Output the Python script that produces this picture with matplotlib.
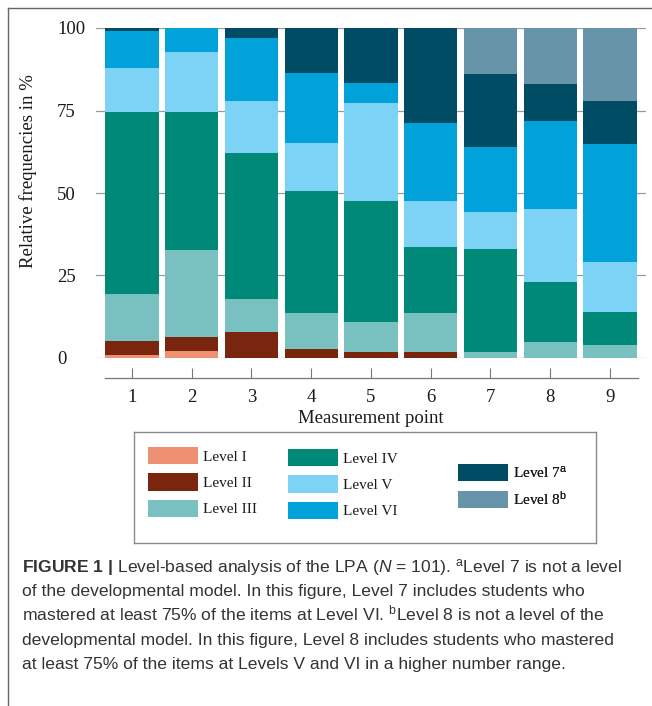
import matplotlib
matplotlib.use('Agg')
import matplotlib.pyplot as plt
from matplotlib.patches import Patch
from matplotlib.lines import Line2D
import numpy as np

points = [1, 2, 3, 4, 5, 6, 7, 8, 9]
level_I = [1.0, 2.2, 0, 0, 0, 0, 0, 0, 0]
level_II = [4.2, 4.1, 8.0, 2.8, 1.9, 1.9, 0, 0, 0]
level_III = [14.2, 26.3, 10.0, 10.9, 9.1, 11.8, 1.9, 4.8, 3.9]
level_IV = [55.2, 42.0, 44.0, 36.8, 36.5, 19.9, 31.2, 18.1, 10.0]
level_V = [13.2, 18.2, 16.0, 14.8, 29.7, 13.9, 11.0, 22.2, 15.1]
level_VI = [11.4, 7.2, 19.1, 21.0, 6.0, 23.8, 19.9, 26.8, 35.9]
level_7 = [0.8, 0, 2.9, 13.7, 16.8, 28.7, 22.0, 11.1, 13.1]
level_8 = [0, 0, 0, 0, 0, 0, 14.0, 17.0, 22.0]

labels = ['Level I', 'Level II', 'Level III', 'Level IV', 'Level V', 'Level VI',
          r'Level 7$^{\mathrm{a}}$', r'Level 8$^{\mathrm{b}}$']
colors = ['#EE9072', '#7A260E', '#79C1C1', '#008878', '#7DD3F6', '#00A2D9',
          '#004C64', '#6794A8']
yticks = [0, 25, 50, 75, 100]

plt.rcParams['font.family'] = ['Liberation Serif', 'DejaVu Serif']
plt.rcParams['mathtext.fontset'] = 'custom'
plt.rcParams['mathtext.rm'] = 'Liberation Sans'
plt.rcParams['mathtext.it'] = 'Liberation Sans:italic'
plt.rcParams['mathtext.bf'] = 'Liberation Sans:bold'

W, H = 652, 706
fig = plt.figure(figsize=(W / 100, H / 100), dpi=100)
ax = fig.add_axes([96 / W, 1 - 358 / H, 549.8 / W, 330 / H])

# stacked bars
series = [level_I, level_II, level_III, level_IV, level_V, level_VI, level_7, level_8]
bottom = np.zeros(len(points))
for vals, col in zip(series, colors):
    ax.bar(points, vals, width=0.893, bottom=bottom, color=col, linewidth=0, zorder=2)
    bottom += np.array(vals)

ax.set_xlim(0.398, 9.6)
ax.set_ylim(0, 100)
ax.set_yticks(yticks)
ax.set_yticklabels([str(t) for t in yticks])
ax.yaxis.grid(True, color='#9a9a9a', lw=0.9, zorder=0)
ax.set_axisbelow(True)
ax.tick_params(axis='y', length=0, pad=28, labelsize=13.5, colors='#1a1a1a')
for t in ax.get_yticklabels():
    t.set_horizontalalignment('left')

ax.set_xticks(points)
ax.tick_params(axis='x', direction='in', length=7, width=0.8, color='#777777',
               pad=8, labelsize=13.5, labelcolor='#1a1a1a')
for s in ['left', 'top', 'right']:
    ax.spines[s].set_visible(False)
ax.spines['bottom'].set_position(('outward', 14.4))
ax.spines['bottom'].set_bounds(0.555, 9.47)
ax.spines['bottom'].set_color('#777777')
ax.spines['bottom'].set_linewidth(0.9)

ax.set_xlabel('Measurement point', fontsize=13.5, labelpad=3, color='#1a1a1a')
ax.set_ylabel('Relative frequencies in %', fontsize=13.5, color='#1a1a1a')
ax.yaxis.set_label_coords(-0.107, 0.567)

# legend box with three groups
leg_ax = fig.add_axes([134 / W, 1 - 543 / H, 462 / W, 111 / H])
leg_ax.set_xticks([])
leg_ax.set_yticks([])
leg_ax.set_facecolor('none')
for s in leg_ax.spines.values():
    s.set_color('#8a8a8a')
    s.set_linewidth(1)

handles = [Patch(facecolor=c, edgecolor='none') for c in colors]
groups = [(0, 3, 0.030, 0.865), (3, 6, 0.333, 0.847), (6, 8, 0.701, 0.715)]
for i0, i1, gx, gy in groups:
    lg = leg_ax.legend(handles[i0:i1], labels[i0:i1], loc='upper left',
                       bbox_to_anchor=(gx, gy), frameon=False, borderpad=0,
                       borderaxespad=0, handlelength=3.27, handleheight=1.37,
                       handletextpad=0.36, labelspacing=0.59,
                       prop={'family': 'Liberation Serif', 'size': 11})
    for txt in lg.get_texts():
        txt.set_color('#1a1a1a')
    leg_ax.add_artist(lg)

# caption
caption = [
    r'$\mathbf{FIGURE\ 1\ |}$ Level-based analysis of the LPA ($N$ = 101). ${}^{\mathrm{a}}$Level 7 is not a level',
    'of the developmental model. In this figure, Level 7 includes students who',
    r'mastered at least 75% of the items at Level VI. ${}^{\mathrm{b}}$Level 8 is not a level of the',
    'developmental model. In this figure, Level 8 includes students who mastered',
    'at least 75% of the items at Levels V and VI in a higher number range.',
]
line_y = [572, 596.2, 620.4, 644.6, 668.8]
for txt, yy in zip(caption, line_y):
    fig.text(22 / W, 1 - yy / H, txt, ha='left', va='baseline', fontsize=12.6,
             family='Liberation Sans', color='#333333')

# outer frame (top and left edges)
fig.add_artist(Line2D([8 / W, 1], [1 - 8 / H, 1 - 8 / H], color='#666666', lw=1))
fig.add_artist(Line2D([8 / W, 8 / W], [1 - 8 / H, 0], color='#666666', lw=1))

fig.savefig('out.png', dpi=100)
